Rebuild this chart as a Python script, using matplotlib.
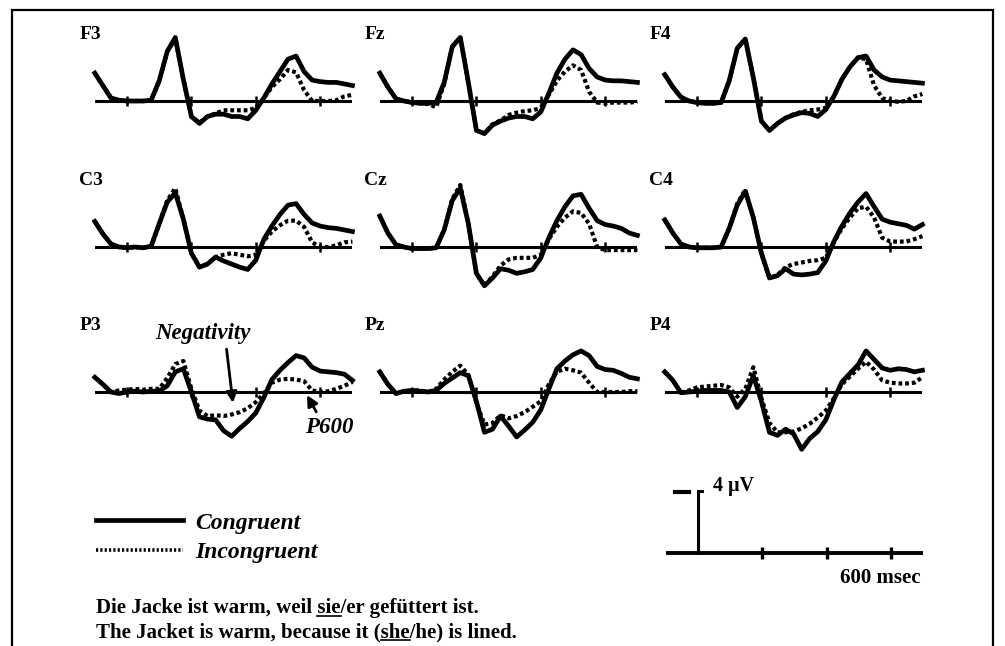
import matplotlib.pyplot as plt
from matplotlib.lines import Line2D
from matplotlib.patches import Rectangle

plt.rcParams['font.family'] = ['Liberation Serif', 'DejaVu Serif']

W, H = 1005, 646

# time axis (msec), same grid for every electrode
times = list(range(-100, 701, 25))

# amplitudes in microvolt, positive up
f3_con = [1.8, 1.0, 0.2, 0.05, 0, 0, 0, 0.05, 1.3, 3.2, 4.1, 1.4, -1.0, -1.45, -1.0, -0.85, -0.85,
          -1.0, -1.0, -1.15, -0.6, 0.2, 1.1, 1.9, 2.7, 2.9, 1.9, 1.35, 1.25, 1.2, 1.2, 1.1, 1.0]
f3_inc = [1.8, 1.0, 0.2, 0.05, 0, 0, 0, 0.05, 1.3, 3.2, 4.0, 1.4, -1.0, -1.4, -1.0, -0.8, -0.6,
          -0.6, -0.6, -0.6, -0.45, 0.2, 0.9, 1.4, 2.0, 1.85, 0.7, 0.0, 0.0, 0.0, 0.05, 0.3, 0.4]
fz_con = [1.8, 0.9, 0.15, 0.0, -0.1, -0.15, -0.15, -0.1, 1.2, 3.5, 4.1, 1.2, -1.9, -2.1, -1.55, -1.3, -1.1,
          -1.0, -1.0, -1.15, -0.7, 0.5, 1.8, 2.7, 3.3, 3.0, 2.1, 1.55, 1.35, 1.3, 1.3, 1.25, 1.2]
fz_inc = [1.8, 0.9, 0.15, 0.0, -0.1, -0.15, -0.2, -0.4, 1.1, 3.5, 4.1, 1.2, -1.9, -2.1, -1.5, -1.25, -0.9,
          -0.75, -0.65, -0.6, -0.45, 0.4, 1.3, 1.9, 2.3, 2.0, 0.6, -0.1, -0.15, -0.1, -0.1, -0.1, -0.05]
f4_con = [1.7, 0.9, 0.25, 0.0, -0.1, -0.15, -0.15, -0.1, 1.3, 3.4, 4.0, 1.5, -1.3, -1.9, -1.45, -1.1, -0.9,
          -0.75, -0.8, -1.0, -0.55, 0.3, 1.4, 2.2, 2.8, 2.9, 2.0, 1.55, 1.35, 1.3, 1.25, 1.2, 1.15]
f4_inc = [1.7, 0.9, 0.25, 0.0, -0.1, -0.15, -0.15, -0.1, 1.3, 3.4, 4.0, 1.5, -1.3, -1.9, -1.45, -1.1, -0.85,
          -0.7, -0.6, -0.55, -0.45, 0.3, 1.4, 2.2, 2.8, 2.7, 1.0, 0.2, 0.0, -0.05, 0.0, 0.3, 0.45]
c3_con = [1.65, 0.85, 0.2, 0.0, -0.05, 0.0, -0.05, 0.05, 1.5, 2.9, 3.5, 1.8, -0.4, -1.3, -1.1, -0.65, -0.9,
          -1.1, -1.3, -1.45, -0.85, 0.5, 1.35, 2.1, 2.7, 2.8, 2.1, 1.55, 1.35, 1.25, 1.2, 1.1, 1.0]
c3_inc = [1.65, 0.85, 0.2, 0.0, -0.05, 0.0, -0.05, 0.05, 1.5, 3.0, 3.8, 1.8, -0.4, -1.3, -1.1, -0.65, -0.5,
          -0.4, -0.5, -0.6, -0.5, 0.4, 1.0, 1.4, 1.7, 1.7, 1.3, 0.3, 0.0, 0.0, 0.1, 0.3, 0.35]
cz_con = [2.0, 0.9, 0.15, 0.0, -0.1, -0.1, -0.1, -0.05, 1.1, 3.0, 3.8, 1.5, -1.7, -2.5, -2.0, -1.4, -1.5,
          -1.7, -1.6, -1.45, -0.7, 0.6, 1.7, 2.6, 3.3, 3.4, 2.5, 1.7, 1.45, 1.35, 1.2, 0.9, 0.75]
cz_inc = [2.0, 0.9, 0.15, 0.0, -0.1, -0.1, -0.1, -0.05, 1.1, 3.1, 4.0, 1.5, -1.7, -2.5, -1.9, -1.2, -0.8,
          -0.7, -0.7, -0.7, -0.5, 0.5, 1.3, 1.9, 2.3, 2.2, 1.5, 0.0, -0.2, -0.2, -0.2, -0.2, -0.2]
c4_con = [1.75, 0.9, 0.2, 0.0, -0.05, -0.05, -0.05, 0.0, 1.2, 2.7, 3.6, 1.9, -0.4, -2.0, -1.85, -1.4, -1.75,
          -1.8, -1.75, -1.65, -0.9, 0.35, 1.35, 2.2, 2.9, 3.45, 2.6, 1.8, 1.6, 1.5, 1.4, 1.15, 1.45]
c4_inc = [1.75, 0.9, 0.2, 0.0, -0.05, -0.05, -0.05, 0.0, 1.2, 2.8, 3.7, 1.9, -0.4, -2.0, -1.8, -1.3, -1.1,
          -1.0, -0.9, -0.85, -0.7, 0.3, 1.2, 1.9, 2.5, 2.6, 1.9, 0.6, 0.35, 0.35, 0.35, 0.5, 0.7]
p3_con = [0.95, 0.5, 0.0, -0.1, 0.0, 0.05, 0.0, 0.05, 0.05, 0.4, 1.3, 1.5, 0.0, -1.6, -1.75, -1.8, -2.5,
          -2.85, -2.35, -1.9, -1.35, -0.35, 0.8, 1.4, 1.9, 2.35, 2.2, 1.6, 1.35, 1.3, 1.25, 1.15, 0.75]
p3_inc = [0.95, 0.5, 0.0, 0.1, 0.15, 0.2, 0.15, 0.2, 0.2, 0.9, 1.8, 2.0, 0.2, -1.2, -1.55, -1.5, -1.55,
          -1.45, -1.3, -1.05, -0.65, -0.1, 0.6, 0.8, 0.85, 0.8, 0.7, 0.1, 0.0, 0.05, 0.2, 0.4, 0.65]
pz_con = [1.3, 0.5, -0.1, 0.05, 0.1, 0.05, 0.0, 0.1, 0.55, 0.9, 1.25, 1.05, -0.6, -2.6, -2.4, -1.55, -2.2,
          -2.9, -2.45, -1.95, -1.15, 0.2, 1.5, 2.0, 2.4, 2.65, 2.35, 1.65, 1.45, 1.4, 1.2, 0.95, 0.85]
pz_inc = [1.3, 0.5, -0.1, 0.05, 0.1, 0.1, 0.0, 0.2, 0.8, 1.3, 1.7, 1.1, -0.7, -2.1, -2.0, -1.5, -1.7,
          -1.55, -1.3, -0.95, -0.6, 0.5, 1.3, 1.5, 1.4, 1.25, 0.6, 0.0, 0.0, 0.0, 0.0, 0.05, 0.05]
p4_con = [1.3, 0.75, -0.05, 0.0, 0.05, 0.1, 0.1, 0.1, 0.0, -1.0, -0.3, 1.05, -0.6, -2.6, -2.8, -2.4, -2.7,
          -3.7, -3.0, -2.55, -1.8, -0.5, 0.65, 1.2, 1.75, 2.65, 2.1, 1.55, 1.4, 1.5, 1.45, 1.3, 1.4]
p4_inc = [1.3, 0.75, -0.05, 0.1, 0.3, 0.35, 0.4, 0.45, 0.3, -0.3, 0.2, 1.6, -0.4, -2.0, -2.6, -2.6, -2.55,
          -2.35, -2.05, -1.65, -1.2, -0.4, 0.5, 1.0, 1.5, 1.95, 1.45, 0.75, 0.6, 0.55, 0.55, 0.6, 0.95]

names = [['F3', 'Fz', 'F4'], ['C3', 'Cz', 'C4'], ['P3', 'Pz', 'P4']]
congruent = [[f3_con, fz_con, f4_con], [c3_con, cz_con, c4_con], [p3_con, pz_con, p4_con]]
incongruent = [[f3_inc, fz_inc, f4_inc], [c3_inc, cz_inc, c4_inc], [p3_inc, pz_inc, p4_inc]]
tick_ms = [0, 200, 400, 600]

# layout (pixels): zero-time x of each column, baseline y of each row
col_x0 = [127, 412, 697]
row_yb = [101, 247, 392]
PX_MS = 0.322   # pixels per msec
PX_UV = 15.5    # pixels per microvolt
T0, T1 = -100, 700
V0, V1 = -4.5, 5.0

fig = plt.figure(figsize=(W / 100, H / 100), dpi=100)


def add_panel(x0, yb):
    left = x0 + T0 * PX_MS
    top = yb - V1 * PX_UV
    w = (T1 - T0) * PX_MS
    h = (V1 - V0) * PX_UV
    ax = fig.add_axes([left / W, 1 - (top + h) / H, w / W, h / H])
    ax.set_xlim(T0, T1)
    ax.set_ylim(V0, V1)
    ax.axis('off')
    return ax


axes = {}
for r in range(3):
    for c in range(3):
        ax = add_panel(col_x0[c], row_yb[r])
        ax.axhline(0, color='k', lw=2.2, zorder=1)
        ax.vlines(tick_ms, -0.3, 0.3, color='k', lw=1.8, zorder=1)
        ax.plot(times, congruent[r][c], color='k', lw=3.4, solid_joinstyle='round',
                clip_on=False, zorder=3)
        ax.plot(times, incongruent[r][c], color='k', lw=3.0, dashes=(0.9, 0.7),
                clip_on=False, zorder=2)
        ax.text(-148, 4.3, names[r][c], fontsize=14, fontweight='bold', va='center', ha='left')
        axes[names[r][c]] = ax

# annotations in P3
ann_font = dict(fontsize=16.5, fontweight='bold', fontstyle='italic')
axes['P3'].annotate('Negativity', xy=(329, -0.7), xytext=(236, 3.8), ha='center', va='center',
                    arrowprops=dict(arrowstyle='-|>', color='k', lw=2, mutation_scale=16,
                                    relpos=(0.74, 0), shrinkA=2, shrinkB=0), **ann_font)
axes['P3'].annotate('P600', xy=(559, -0.2), xytext=(627, -2.3), ha='center', va='center',
                    arrowprops=dict(arrowstyle='-|>', color='k', lw=2, mutation_scale=16,
                                    relpos=(0.3, 1), shrinkA=2, shrinkB=0), **ann_font)

# calibration bar
sax = add_panel(698, 553)
sax.axhline(0, color='k', lw=2.8)
sax.vlines(tick_ms[1:], -0.4, 0.4, color='k', lw=2.4)
sax.plot([0, 0, 12], [0, 4, 4], color='k', lw=2.2, solid_joinstyle='miter')
sax.plot([-71, -27], [3.95, 3.95], color='k', lw=3)
sax.text(47, 4.3, '4 \u03bcV', fontsize=14.5, fontweight='bold', va='center', ha='left')
sax.text(692, -1.6, '600 msec', fontsize=15, fontweight='bold', va='center', ha='right')

# legend
handles = [Line2D([], [], color='k', lw=3.4),
           Line2D([], [], color='k', lw=2.6, dashes=(0.6, 0.6))]
fig.legend(handles, ['Congruent', 'Incongruent'], loc='upper left',
           bbox_to_anchor=(96 / W, 1 - 512 / H), frameon=False, borderpad=0, borderaxespad=0,
           handlelength=3.7, handletextpad=0.5, labelspacing=0.33,
           prop=dict(family='Liberation Serif', size=17, weight='bold', style='italic'))

# sentences with underlined pronoun
sent_font = dict(fontsize=15, fontweight='bold', ha='left', va='baseline')
sentences = [("Die Jacke ist warm, weil sie/er gefüttert ist.", "Die Jacke ist warm, weil sie", "sie", 613),
             ("The Jacket is warm, because it (she/he) is lined.", "The Jacket is warm, because it (she", "she", 637)]
fig.canvas.draw()
rend = fig.canvas.get_renderer()
for full, upto, word, yb in sentences:
    fig.text(96 / W, 1 - yb / H, full, **sent_font)
    tmp = fig.text(96 / W, 1 - yb / H, upto, **sent_font)
    x_end = tmp.get_window_extent(rend).x1
    tmp.remove()
    tmp = fig.text(96 / W, 1 - yb / H, word, **sent_font)
    wid = tmp.get_window_extent(rend).width
    tmp.remove()
    uy = 1 - (yb + 3) / H
    fig.add_artist(Line2D([(x_end - wid) / W, x_end / W], [uy, uy], color='k', lw=1.2,
                          transform=fig.transFigure))

# outer frame (open at the bottom edge of the image)
fig.add_artist(Rectangle((12 / W, -0.05), (993 - 12) / W, 1.05 - 10 / H, fill=False,
                         ec='k', lw=1.6, transform=fig.transFigure))

fig.savefig('out.png', dpi=100)
